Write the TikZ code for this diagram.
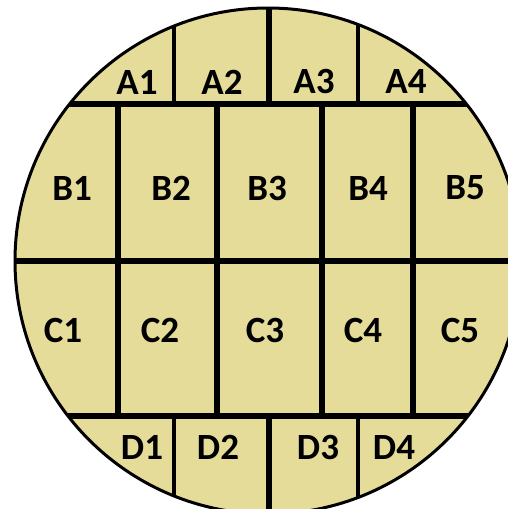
\documentclass[tikz,border=0pt]{standalone}
\usepackage{fontspec}
\setmainfont{Carlito}
\definecolor{wafer}{RGB}{230,220,153}
\tikzset{
  lbl/.style={font=\fontsize{37}{37}\selectfont\bfseries, text=black, inner sep=0pt, anchor=center},
  thincut/.style={line width=4.5pt, black},
  thickcut/.style={line width=6pt, black},
  hcut/.style={line width=6.5pt, black},
}
\begin{document}
\begin{tikzpicture}[x=1pt,y=-1pt]
\useasboundingbox (0,0) rectangle (508,509);
\clip (0,0) rectangle (508,509);
\fill[wafer] (268,261) circle[radius=253];
\begin{scope}
\clip (268,261) circle[radius=253];
% horizontal cuts
\draw[hcut] (0,104) -- (530,104);
\draw[hcut] (0,261) -- (530,261);
\draw[hcut] (0,416) -- (530,416);
% A row
\foreach \x in {174,358} \draw[thincut] (\x,0) -- (\x,104);
\draw[thickcut] (269,0) -- (269,104);
% B and C rows
\foreach \x in {118,217,322,413} \draw[thickcut] (\x,104) -- (\x,416);
% D row
\foreach \x in {174,358} \draw[thincut] (\x,416) -- (\x,530);
\draw[thickcut] (269,416) -- (269,530);
\end{scope}
\draw[line width=3pt, black] (268,261) circle[radius=253];
% labels
\node[lbl] (A1) at (137,82) {A1};
\node[lbl] (A2) at (222,82) {A2};
\node[lbl] (A3) at (314,81) {A3};
\node[lbl] (A4) at (406,81) {A4};
\node[lbl] (B1) at (72,188) {B1};
\node[lbl] (B2) at (171,188) {B2};
\node[lbl] (B3) at (267,188) {B3};
\node[lbl] (B4) at (368,188) {B4};
\node[lbl] (B5) at (465,188) {B5};
\node[lbl] (C1) at (63,330) {C1};
\node[lbl] (C2) at (160,330) {C2};
\node[lbl] (C3) at (265,330) {C3};
\node[lbl] (C4) at (363,330) {C4};
\node[lbl] (C5) at (460,330) {C5};
\node[lbl] (D1) at (142,447) {D1};
\node[lbl] (D2) at (218,447) {D2};
\node[lbl] (D3) at (318,447) {D3};
\node[lbl] (D4) at (394,447) {D4};
\end{tikzpicture}
\end{document}
